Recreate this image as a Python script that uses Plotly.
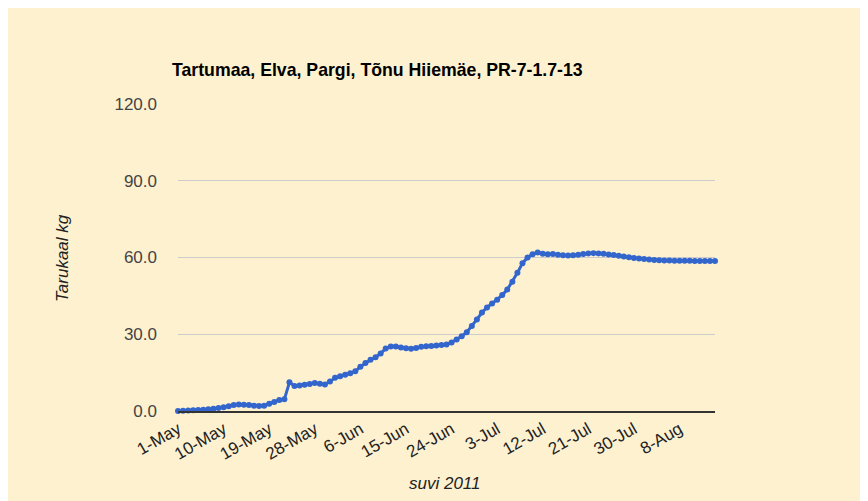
import plotly.graph_objects as go
import pandas as pd

start_date = "2011-05-01"
values = [
    0.0, 0.1, 0.2, 0.3, 0.4, 0.5, 0.7, 0.9, 1.2, 1.5, 1.9,
    2.3, 2.5, 2.4, 2.3, 2.1, 2.0, 2.1, 2.8, 3.5, 4.3, 4.6,
    11.2, 9.8, 10.0, 10.3, 10.6, 10.9, 10.7, 10.4, 11.5,
    13.0, 13.6, 14.2, 14.8, 15.5, 17.3, 18.8, 20.0, 21.0, 22.5,
    24.4, 25.2, 25.2, 24.8, 24.5, 24.3, 24.6, 25.1, 25.3, 25.4,
    25.6, 25.8, 26.0, 26.8, 27.9, 29.2, 30.8, 33.2, 35.8, 38.5,
    40.5, 42.0, 43.5, 45.3, 47.5, 50.5, 54.0, 57.8, 60.0, 61.3,
    62.0, 61.5, 61.3, 61.4, 61.1, 60.9, 60.8, 60.9, 61.1, 61.4,
    61.6, 61.7, 61.6, 61.5, 61.2, 61.0, 60.7, 60.4, 60.1, 59.8,
    59.6, 59.4, 59.2, 59.0, 58.9, 58.8, 58.8, 58.7, 58.7, 58.7,
    58.7, 58.6, 58.6, 58.6, 58.6, 58.6,
]
dates = pd.date_range(start_date, periods=len(values), freq="D")
tick_dates = pd.date_range(start_date, periods=12, freq="9D")
tick_labels = [f"{d.day}-{d.strftime('%b')}" for d in tick_dates]
y_ticks = [0, 30, 60, 90, 120]
y_labels = ["0.0", "30.0", "60.0", "90.0", "120.0"]

title_text = "Tartumaa, Elva, Pargi, Tõnu Hiiemäe, PR-7-1.7-13"
bg = "#FEF1D0"
FONT = "Liberation Sans, Arial, sans-serif"

fig = go.Figure(go.Scatter(
    x=dates, y=values, mode="lines+markers",
    line=dict(color="#3366CC", width=3),
    marker=dict(color="#3366CC", size=6),
    cliponaxis=False,
))

fig.update_layout(
    width=868, height=501,
    paper_bgcolor=bg, plot_bgcolor=bg,
    margin=dict(l=170, r=161, t=96, b=98),
    font=dict(family=FONT, size=17, color="#222222"),
    showlegend=False,
    title=dict(text="<b>" + title_text + "</b>", xref="container", yref="container",
               x=164/868, xanchor="left", y=1-62/501, yanchor="middle",
               font=dict(size=17.7, color="#000000")),
    xaxis=dict(
        range=[dates[0], dates[-1]],
        tickvals=tick_dates, ticktext=tick_labels, tickangle=-30,
        showgrid=False, zeroline=False,
        showline=True, linecolor="#333333", linewidth=1.5,
        ticks="", tickfont=dict(size=17, color="#222222"),
    ),
    yaxis=dict(
        range=[0, 120], tickvals=y_ticks, ticktext=y_labels,
        showgrid=True, gridcolor="#CCCCCC", gridwidth=1, zeroline=False,
        ticks="", ticklabelstandoff=20, tickfont=dict(size=17, color="#444444"),
    ),
    annotations=[
        dict(text="<i>Tarukaal kg</i>", xref="paper", yref="paper",
             x=(62 - 178) / 537, y=(411 - 258) / 307, xanchor="center", yanchor="middle",
             textangle=-90, showarrow=False, font=dict(size=17, color="#222222")),
        dict(text="<i>suvi 2011</i>", xref="paper", yref="paper",
             x=(445 - 178) / 537, y=(411 - 483) / 307, xanchor="center", yanchor="middle",
             showarrow=False, font=dict(size=17, color="#222222")),
    ],
)

fig.write_html("out.html")
